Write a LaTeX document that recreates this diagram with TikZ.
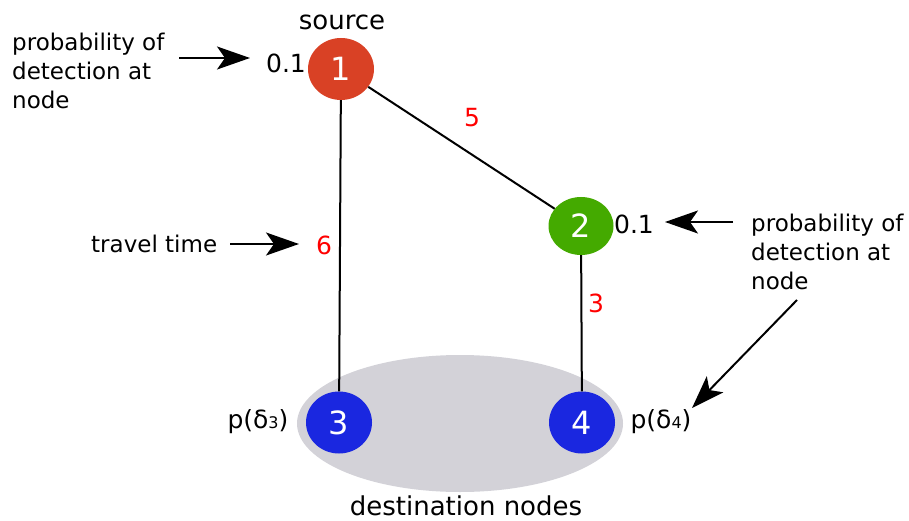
\documentclass[tikz,border=0pt]{standalone}
\usepackage{fontspec}
\setmainfont{DejaVu Sans}
\usetikzlibrary{arrows.meta,shapes.geometric}
\definecolor{cone}{HTML}{D94125}
\definecolor{ctwo}{HTML}{44AA00}
\definecolor{cblue}{HTML}{1A27E0}
\definecolor{cgray}{HTML}{D3D2D8}
\begin{document}
\begin{tikzpicture}[x=1pt,y=-1pt,
  num/.style={ellipse, inner sep=0pt, minimum width=66pt, minimum height=62pt, text=white, font=\fontsize{32}{32}\selectfont},
  edge/.style={line width=2pt},
  ann/.style={font=\fontsize{23}{29}\selectfont, align=left, inner sep=0pt, anchor=west},
  lbl/.style={font=\fontsize{25}{30}\selectfont, inner sep=0pt},
  big/.style={font=\fontsize{26}{30}\selectfont, inner sep=0pt},
  wt/.style={lbl, text=red},
  pointer/.style={line width=2pt, -{Stealth[length=33pt,width=23pt,inset=8pt]}}]
\useasboundingbox (0,0) rectangle (909,521);
\node[ellipse, fill=cgray, minimum width=326pt, minimum height=137pt, inner sep=0pt] (dest) at (460,423.5) {};
\node[num, fill=cone] (n1) at (341,69) {1};
\node[num, fill=ctwo, minimum width=65pt, minimum height=58pt] (n2) at (581,226) {2};
\node[num, fill=cblue] (n3) at (339,422.5) {3};
\node[num, fill=cblue] (n4) at (582,422.5) {4};
\draw[edge] (n1) -- (n3);
\draw[edge] (n1) -- (n2);
\draw[edge] (n2) -- (n4);
\node[big] (src) at (342,22) {source};
\node[big] (dst) at (466,506) {destination nodes};
\node[lbl] (p1) at (286,63) {0.1};
\node[lbl] (p2) at (634,224) {0.1};
\node[lbl] (d3) at (258,422) {p(δ{\fontsize{16}{16}\selectfont 3})};
\node[lbl] (d4) at (661,422) {p(δ{\fontsize{16}{16}\selectfont 4})};
\node[wt] (w5) at (472,118) {5};
\node[wt] (w6) at (324,245) {6};
\node[wt] (w3) at (596,303) {3};
\node[ann] (a1) at (12,71) {probability of\\detection at\\node};
\node[ann] (a2) at (751,252) {probability of\\detection at\\node};
\node[ann] (a3) at (91,244) {travel time};
\coordinate (s1) at (179,58);
\coordinate (e1) at (250,58);
\coordinate (s2) at (733,222);
\coordinate (e2) at (665,222);
\coordinate (s3) at (797,300);
\coordinate (e3) at (692,408);
\coordinate (s4) at (230,244);
\coordinate (e4) at (299,244);
\draw[pointer] (s1) -- (e1);
\draw[pointer] (s2) -- (e2);
\draw[pointer] (s3) -- (e3);
\draw[pointer] (s4) -- (e4);
\end{tikzpicture}
\end{document}
